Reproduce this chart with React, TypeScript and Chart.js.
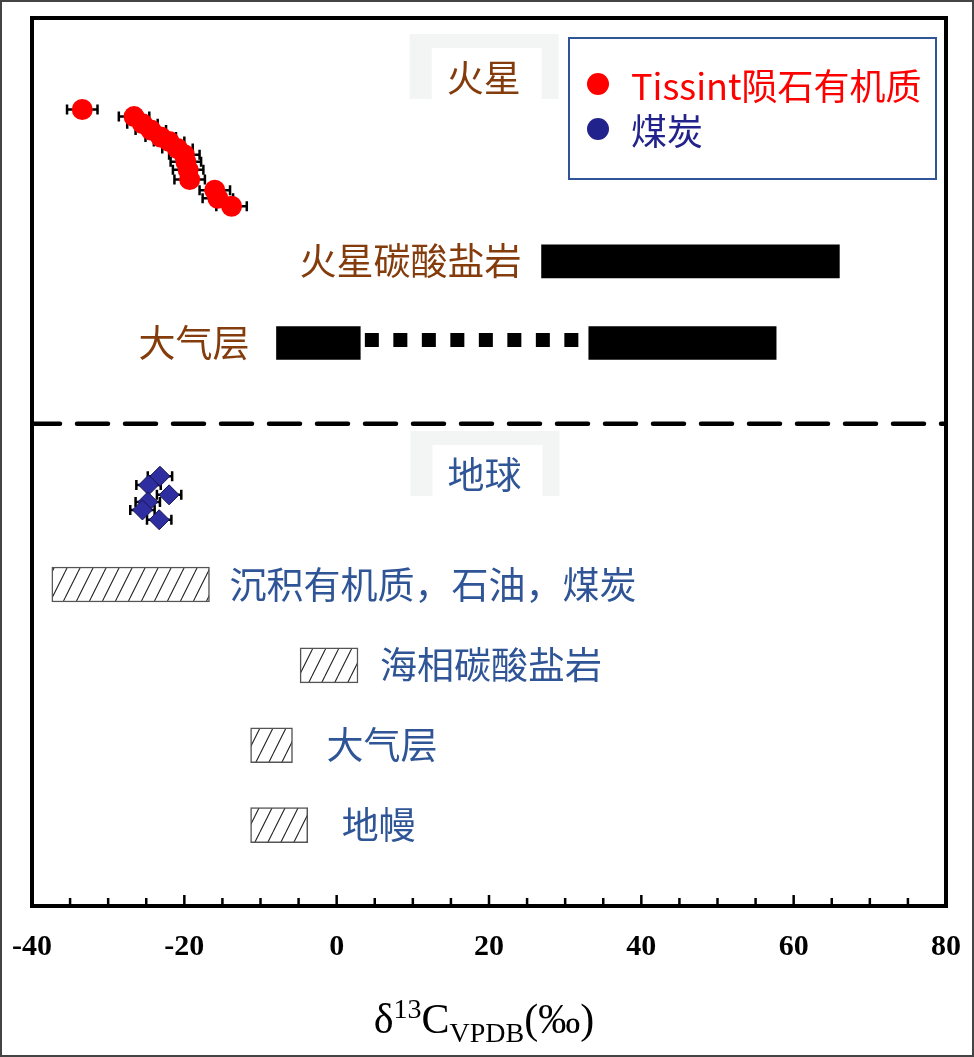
import { useEffect, useRef } from "react";
import { Chart, registerables, type ChartConfiguration, type Plugin } from "chart.js";

Chart.register(...registerables);

// x axis: δ13C (‰); y is only a row position (0 = top, 100 = bottom)
const xTickStep = 20;
const minorTicks = [-35, -30, -25, -20, -15, -10, -5, 0, 5, 10, 15, 20, 25, 30, 35, 40, 45, 50, 55, 60, 65, 70, 75];

// Tissint meteorite organic matter
const tissintLabel = "Tissint陨石有机质";
const tissintX = [-33.4, -26.6, -25.5, -24.4, -23.1, -22.0, -20.9, -20.0, -19.8, -19.5, -19.3, -16.0, -15.6, -13.8];
const tissintY = [10.3, 11.1, 11.9, 12.6, 13.4, 13.9, 14.7, 15.4, 16.2, 17.1, 18.2, 19.4, 20.3, 21.2];
const tissintErr = 2.0;

// coal
const coalLabel = "煤炭";
const coalX = [-23.2, -24.7, -22.0, -24.8, -25.5, -23.3];
const coalY = [51.6, 52.6, 53.7, 54.5, 55.4, 56.5];
const coalErr = 1.6;

// Mars ranges (black bars)
const marsLabels = ["火星碳酸盐岩", "大气层"];
const marsLabelBar = [0, 1];
const marsLow = [26.9, -7.9, 33.1];
const marsHigh = [66.0, 3.1, 57.7];
const marsRow = [27.4, 36.6, 36.6];
const marsDotted = [3.7, 31.9];
const marsDottedRow = 36.25;

// divider between Mars and Earth
const dividerRow = 45.7;

// Earth ranges (hatched bars)
const earthLabels = ["沉积有机质，石油，煤炭", "海相碳酸盐岩", "大气层", "地幔"];
const earthLow = [-37.4, -4.8, -11.3, -11.3];
const earthHigh = [-16.7, 2.8, -5.8, -3.8];
const earthRow = [63.8, 72.9, 81.9, 90.9];

// section headings
const headings = ["火星", "地球"];
const headingX = [19.3, 19.4];
const headingY = [6.76, 51.46];

const BROWN = "#843C0C";
const BLUE = "#2F5597";
const NAVY = "#22228C";
const CJK = '"Noto Sans CJK SC", "Noto Sans", sans-serif';
const SERIF = '"Liberation Serif", "Times New Roman", serif';

const marsGap = [20, 27];
const earthGap = [20, 22, 34, 34];

function makeHatch(): CanvasPattern | string {
  const w = 13;
  const h = 26;
  const c = document.createElement("canvas");
  c.width = w;
  c.height = h;
  const g = c.getContext("2d");
  if (!g) return "#fff";
  g.fillStyle = "#fff";
  g.fillRect(0, 0, w, h);
  g.strokeStyle = "#222";
  g.lineWidth = 1.1;
  g.beginPath();
  for (const off of [-w, 0, w]) {
    g.moveTo(off, h);
    g.lineTo(off + w, 0);
  }
  g.stroke();
  return g.createPattern(c, "repeat") ?? "#fff";
}

const decorPlugin: Plugin<"scatter"> = {
  id: "decor",
  beforeDatasetsDraw(chart) {
    const { ctx } = chart;
    const x = chart.scales.x;
    const y = chart.scales.y;
    ctx.save();
    // faint boxes behind headings
    headings.forEach((_, i) => {
      const cx = x.getPixelForValue(headingX[i]);
      const cy = y.getPixelForValue(headingY[i]);
      ctx.fillStyle = "#F3F4F4";
      ctx.fillRect(cx - 74, cy - 44, 149, 65);
      ctx.fillStyle = "#fff";
      ctx.fillRect(cx - 52, cy - 30, 110, 51);
    });
    // error bars
    const drawErr = (xs: number[], ys: number[], err: number) => {
      ctx.strokeStyle = "#000";
      ctx.lineWidth = 2.5;
      xs.forEach((v, i) => {
        const x1 = x.getPixelForValue(v - err);
        const x2 = x.getPixelForValue(v + err);
        const py = y.getPixelForValue(ys[i]);
        ctx.beginPath();
        ctx.moveTo(x1, py);
        ctx.lineTo(x2, py);
        ctx.moveTo(x1, py - 5);
        ctx.lineTo(x1, py + 5);
        ctx.moveTo(x2, py - 5);
        ctx.lineTo(x2, py + 5);
        ctx.stroke();
      });
    };
    drawErr(tissintX, tissintY, tissintErr);
    drawErr(coalX, coalY, coalErr);
    ctx.restore();
  },
  afterDatasetsDraw(chart) {
    const { ctx } = chart;
    const x = chart.scales.x;
    const y = chart.scales.y;
    ctx.save();
    ctx.font = `37px ${CJK}`;
    ctx.textBaseline = "middle";
    // headings
    ctx.textAlign = "center";
    headings.forEach((t, i) => {
      ctx.fillStyle = i === 0 ? BROWN : BLUE;
      ctx.fillText(t, x.getPixelForValue(headingX[i]), y.getPixelForValue(headingY[i]));
    });
    // Mars labels, to the left of their bars
    ctx.textAlign = "right";
    ctx.fillStyle = BROWN;
    marsLabels.forEach((t, i) => {
      const b = marsLabelBar[i];
      ctx.fillText(t, x.getPixelForValue(marsLow[b]) - marsGap[i], y.getPixelForValue(marsRow[b]));
    });
    // Earth labels
    ctx.textAlign = "left";
    ctx.fillStyle = BLUE;
    earthLabels.forEach((t, i) => {
      ctx.fillText(t, x.getPixelForValue(earthHigh[i]) + earthGap[i], y.getPixelForValue(earthRow[i]));
    });
    ctx.restore();
  },
  afterDraw(chart) {
    const { ctx, chartArea: a } = chart;
    const x = chart.scales.x;
    ctx.save();
    // plot frame
    ctx.strokeStyle = "#000";
    ctx.lineWidth = 4;
    ctx.strokeRect(a.left, a.top, a.right - a.left, a.bottom - a.top);
    // inward ticks
    ctx.lineWidth = 2.5;
    ctx.beginPath();
    minorTicks.forEach((v) => {
      const px = x.getPixelForValue(v);
      const len = v % xTickStep === 0 ? 11 : 8;
      ctx.moveTo(px, a.bottom);
      ctx.lineTo(px, a.bottom - len);
    });
    ctx.stroke();

    // legend
    const lx = a.left + 537;
    const ly = a.top + 20;
    ctx.strokeStyle = BLUE;
    ctx.lineWidth = 2;
    ctx.strokeRect(lx, ly, 367, 141);
    const ds = chart.data.datasets;
    const items = [
      { text: ds[0].label ?? "", color: "#FF0000", cy: ly + 48 },
      { text: ds[1].label ?? "", color: NAVY, cy: ly + 93 },
    ];
    ctx.font = `36px ${CJK}`;
    ctx.textBaseline = "middle";
    ctx.textAlign = "left";
    items.forEach((it) => {
      ctx.fillStyle = it.color;
      ctx.beginPath();
      ctx.arc(lx + 29, it.cy - 2, 11, 0, Math.PI * 2);
      ctx.fill();
      ctx.fillText(it.text, lx + 62, it.cy);
    });

    // axis title δ13C VPDB (‰)
    const parts = [
      { t: "δ", size: 42, dy: 0 },
      { t: "13", size: 28, dy: -15 },
      { t: "C", size: 42, dy: 0 },
      { t: "VPDB", size: 28, dy: 9 },
      { t: "(‰)", size: 42, dy: 0 },
    ];
    ctx.fillStyle = "#000";
    ctx.textBaseline = "alphabetic";
    let total = 0;
    const widths = parts.map((p) => {
      ctx.font = `${p.size}px ${SERIF}`;
      const w = ctx.measureText(p.t).width;
      total += w;
      return w;
    });
    let cx = (a.left + a.right) / 2 - 5 - total / 2;
    const base = a.bottom + 127;
    parts.forEach((p, i) => {
      ctx.font = `${p.size}px ${SERIF}`;
      ctx.fillText(p.t, cx, base + p.dy);
      cx += widths[i];
    });

    // outer border
    ctx.strokeStyle = "#444";
    ctx.lineWidth = 2;
    ctx.strokeRect(1, 1, chart.width - 2, chart.height - 2);
    ctx.restore();
  },
};

export default function App() {
  const canvasRef = useRef<HTMLCanvasElement>(null);

  useEffect(() => {
    const canvas = canvasRef.current;
    if (!canvas) return;
    const hatch = makeHatch();

    const config: ChartConfiguration<"scatter"> = {
      type: "scatter",
      data: {
        datasets: [
          {
            label: tissintLabel,
            data: tissintX.map((v, i) => ({ x: v, y: tissintY[i] })),
            backgroundColor: "#FF0000",
            borderWidth: 0,
            pointRadius: 10.5,
            order: 1,
          },
          {
            label: coalLabel,
            data: coalX.map((v, i) => ({ x: v, y: coalY[i] })),
            pointStyle: "rectRot",
            backgroundColor: "#2E2EA0",
            borderColor: "#15154E",
            borderWidth: 1,
            pointRadius: 10,
            order: 1,
          },
          {
            type: "bar",
            label: "mars",
            indexAxis: "y",
            stack: "ranges",
            data: marsLow.map((v, i) => ({ x: [v, marsHigh[i]], y: marsRow[i] })),
            backgroundColor: "#000",
            borderWidth: 0,
            barThickness: 33,
            order: 5,
          } as any,
          {
            type: "bar",
            label: "earth",
            indexAxis: "y",
            stack: "ranges",
            data: earthLow.map((v, i) => ({ x: [v, earthHigh[i]], y: earthRow[i] })),
            backgroundColor: hatch,
            borderColor: "#555",
            borderWidth: 1.5,
            borderSkipped: false,
            barThickness: 35,
            order: 5,
          } as any,
          {
            type: "line",
            label: "dotted",
            data: marsDotted.map((v) => ({ x: v, y: marsDottedRow })),
            borderColor: "#000",
            borderWidth: 14,
            borderDash: [14, 14.5],
            borderCapStyle: "butt",
            pointRadius: 0,
            order: 4,
          } as any,
          {
            type: "line",
            label: "divider",
            data: [
              { x: -40, y: dividerRow },
              { x: 80, y: dividerRow },
            ],
            borderColor: "#000",
            borderWidth: 4.5,
            borderDash: [31, 17],
            borderDashOffset: 3,
            borderCapStyle: "round",
            pointRadius: 0,
            order: 4,
          } as any,
        ],
      },
      options: {
        responsive: false,
        animation: false,
        layout: { padding: { top: 18, left: 32, right: 28, bottom: 92 } },
        plugins: {
          legend: { display: false },
          tooltip: { enabled: false },
        },
        scales: {
          x: {
            type: "linear",
            min: -40,
            max: 80,
            offset: false,
            grid: { display: false, drawTicks: true, tickLength: 23, offset: false },
            border: { display: false },
            ticks: {
              stepSize: xTickStep,
              padding: 0,
              color: "#000",
              font: { family: SERIF, size: 30, weight: "bold" },
            },
          },
          y: {
            type: "linear",
            min: 0,
            max: 100,
            reverse: true,
            offset: false,
            grid: { offset: false },
            display: false,
          },
        },
      },
      plugins: [decorPlugin],
    };

    const chart = new Chart(canvas, config);
    return () => chart.destroy();
  }, []);

  return (
    <div style={{ position: "absolute", left: 0, top: 0, width: 974, height: 1057, background: "#fff" }}>
      <canvas ref={canvasRef} width={974} height={1057} style={{ display: "block" }} />
    </div>
  );
}
